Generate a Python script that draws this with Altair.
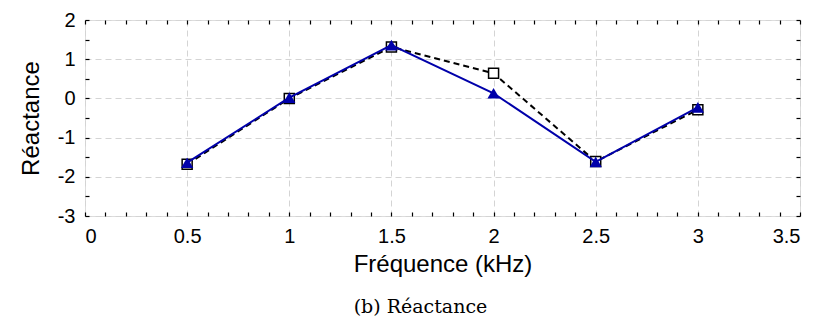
import altair as alt
import pandas as pd

# Data
freq = [0.5, 1.0, 1.5, 2.0, 2.5, 3.0]
reactance_sq = [-1.68, 0.00, 1.31, 0.64, -1.61, -0.29]   # black dashed, open squares
reactance_tri = [-1.64, 0.02, 1.36, 0.13, -1.62, -0.23]  # blue solid, filled triangles

x_major = [0, 0.5, 1, 1.5, 2, 2.5, 3, 3.5]
y_major = [-3, -2, -1, 0, 1, 2]
x_minor = [round(i * 0.1, 1) for i in range(36)]
y_minor = [-3 + 0.5 * i for i in range(11)]

df_sq = pd.DataFrame({"f": freq, "r": reactance_sq})
df_tri = pd.DataFrame({"f": freq, "r": reactance_tri})

W, H = 715, 196
xs = alt.Scale(domain=[0, 3.5], nice=False, zero=False)
ys = alt.Scale(domain=[-3, 2], nice=False, zero=False)

FONT = "Liberation Sans"

main_x = alt.Axis(values=x_major, labelExpr="datum.value + ''", grid=True,
                  gridDash=[6, 4], gridColor="#d4d4d4", gridWidth=1,
                  ticks=False, domain=False, labelFontSize=20, labelFont=FONT,
                  labelColor="black", labelPadding=10, title="Fréquence (kHz)",
                  titleFontSize=24, titleFont=FONT, titleFontWeight="normal",
                  titleColor="black", titlePadding=6)
main_y = alt.Axis(values=y_major, labelExpr="datum.value + ''", grid=True,
                  gridDash=[6, 4], gridColor="#d4d4d4", gridWidth=1,
                  ticks=False, domain=False, labelFontSize=20, labelFont=FONT,
                  labelColor="black", labelPadding=10, title="Réactance",
                  titleFontSize=24, titleFont=FONT, titleFontWeight="normal",
                  titleColor="black", titlePadding=14)


def tick_axis(orient, values, offset):
    return alt.Axis(orient=orient, values=values, offset=offset, labels=False,
                    grid=False, domain=False, ticks=True, tickSize=4,
                    tickColor="black", tickWidth=1.2, title=None)


# layer 1: black dashed line with main axes
l1 = alt.Chart(df_sq).mark_line(color="black", strokeDash=[6, 4], strokeWidth=2).encode(
    x=alt.X("f:Q", scale=xs, axis=main_x),
    y=alt.Y("r:Q", scale=ys, axis=main_y),
)
# layer 2: open squares; inward ticks on bottom and left edges
l2 = alt.Chart(df_sq).mark_point(shape="square", size=100, filled=True, fill="white",
                                 stroke="black", strokeWidth=1.5, opacity=1).encode(
    x=alt.X("f:Q", scale=xs, axis=tick_axis("top", x_minor, -H)),
    y=alt.Y("r:Q", scale=ys, axis=tick_axis("right", y_minor, -W)),
)
# layer 3: blue line; inward ticks on top and right edges
l3 = alt.Chart(df_tri).mark_line(color="#0000aa", strokeWidth=2).encode(
    x=alt.X("f:Q", scale=xs, axis=tick_axis("bottom", x_minor, -H)),
    y=alt.Y("r:Q", scale=ys, axis=tick_axis("left", y_minor, -W)),
)
# layer 4: filled blue triangles
l4 = alt.Chart(df_tri).mark_point(shape="triangle-up", size=150, filled=True,
                                  color="#0000aa", opacity=1).encode(
    x=alt.X("f:Q", scale=xs, axis=None),
    y=alt.Y("r:Q", scale=ys, axis=None),
)

chart = (
    alt.layer(l1, l2, l3, l4)
    .resolve_axis(x="independent", y="independent")
    .properties(
        width=W,
        height=H,
        autosize=alt.AutoSizeParams(type="none"),
        padding={"left": 77, "top": 12, "right": 10, "bottom": 108},
        title=alt.TitleParams("(b) Réactance", orient="bottom", anchor="middle",
                              font="DejaVu Serif", fontSize=19, fontWeight="normal",
                              color="black", offset=22, dx=-22),
    )
    .configure_view(stroke="black", strokeWidth=2)
    .configure(background="white")
)

chart.save("out.html", embed_options={"renderer": "svg", "actions": False})
